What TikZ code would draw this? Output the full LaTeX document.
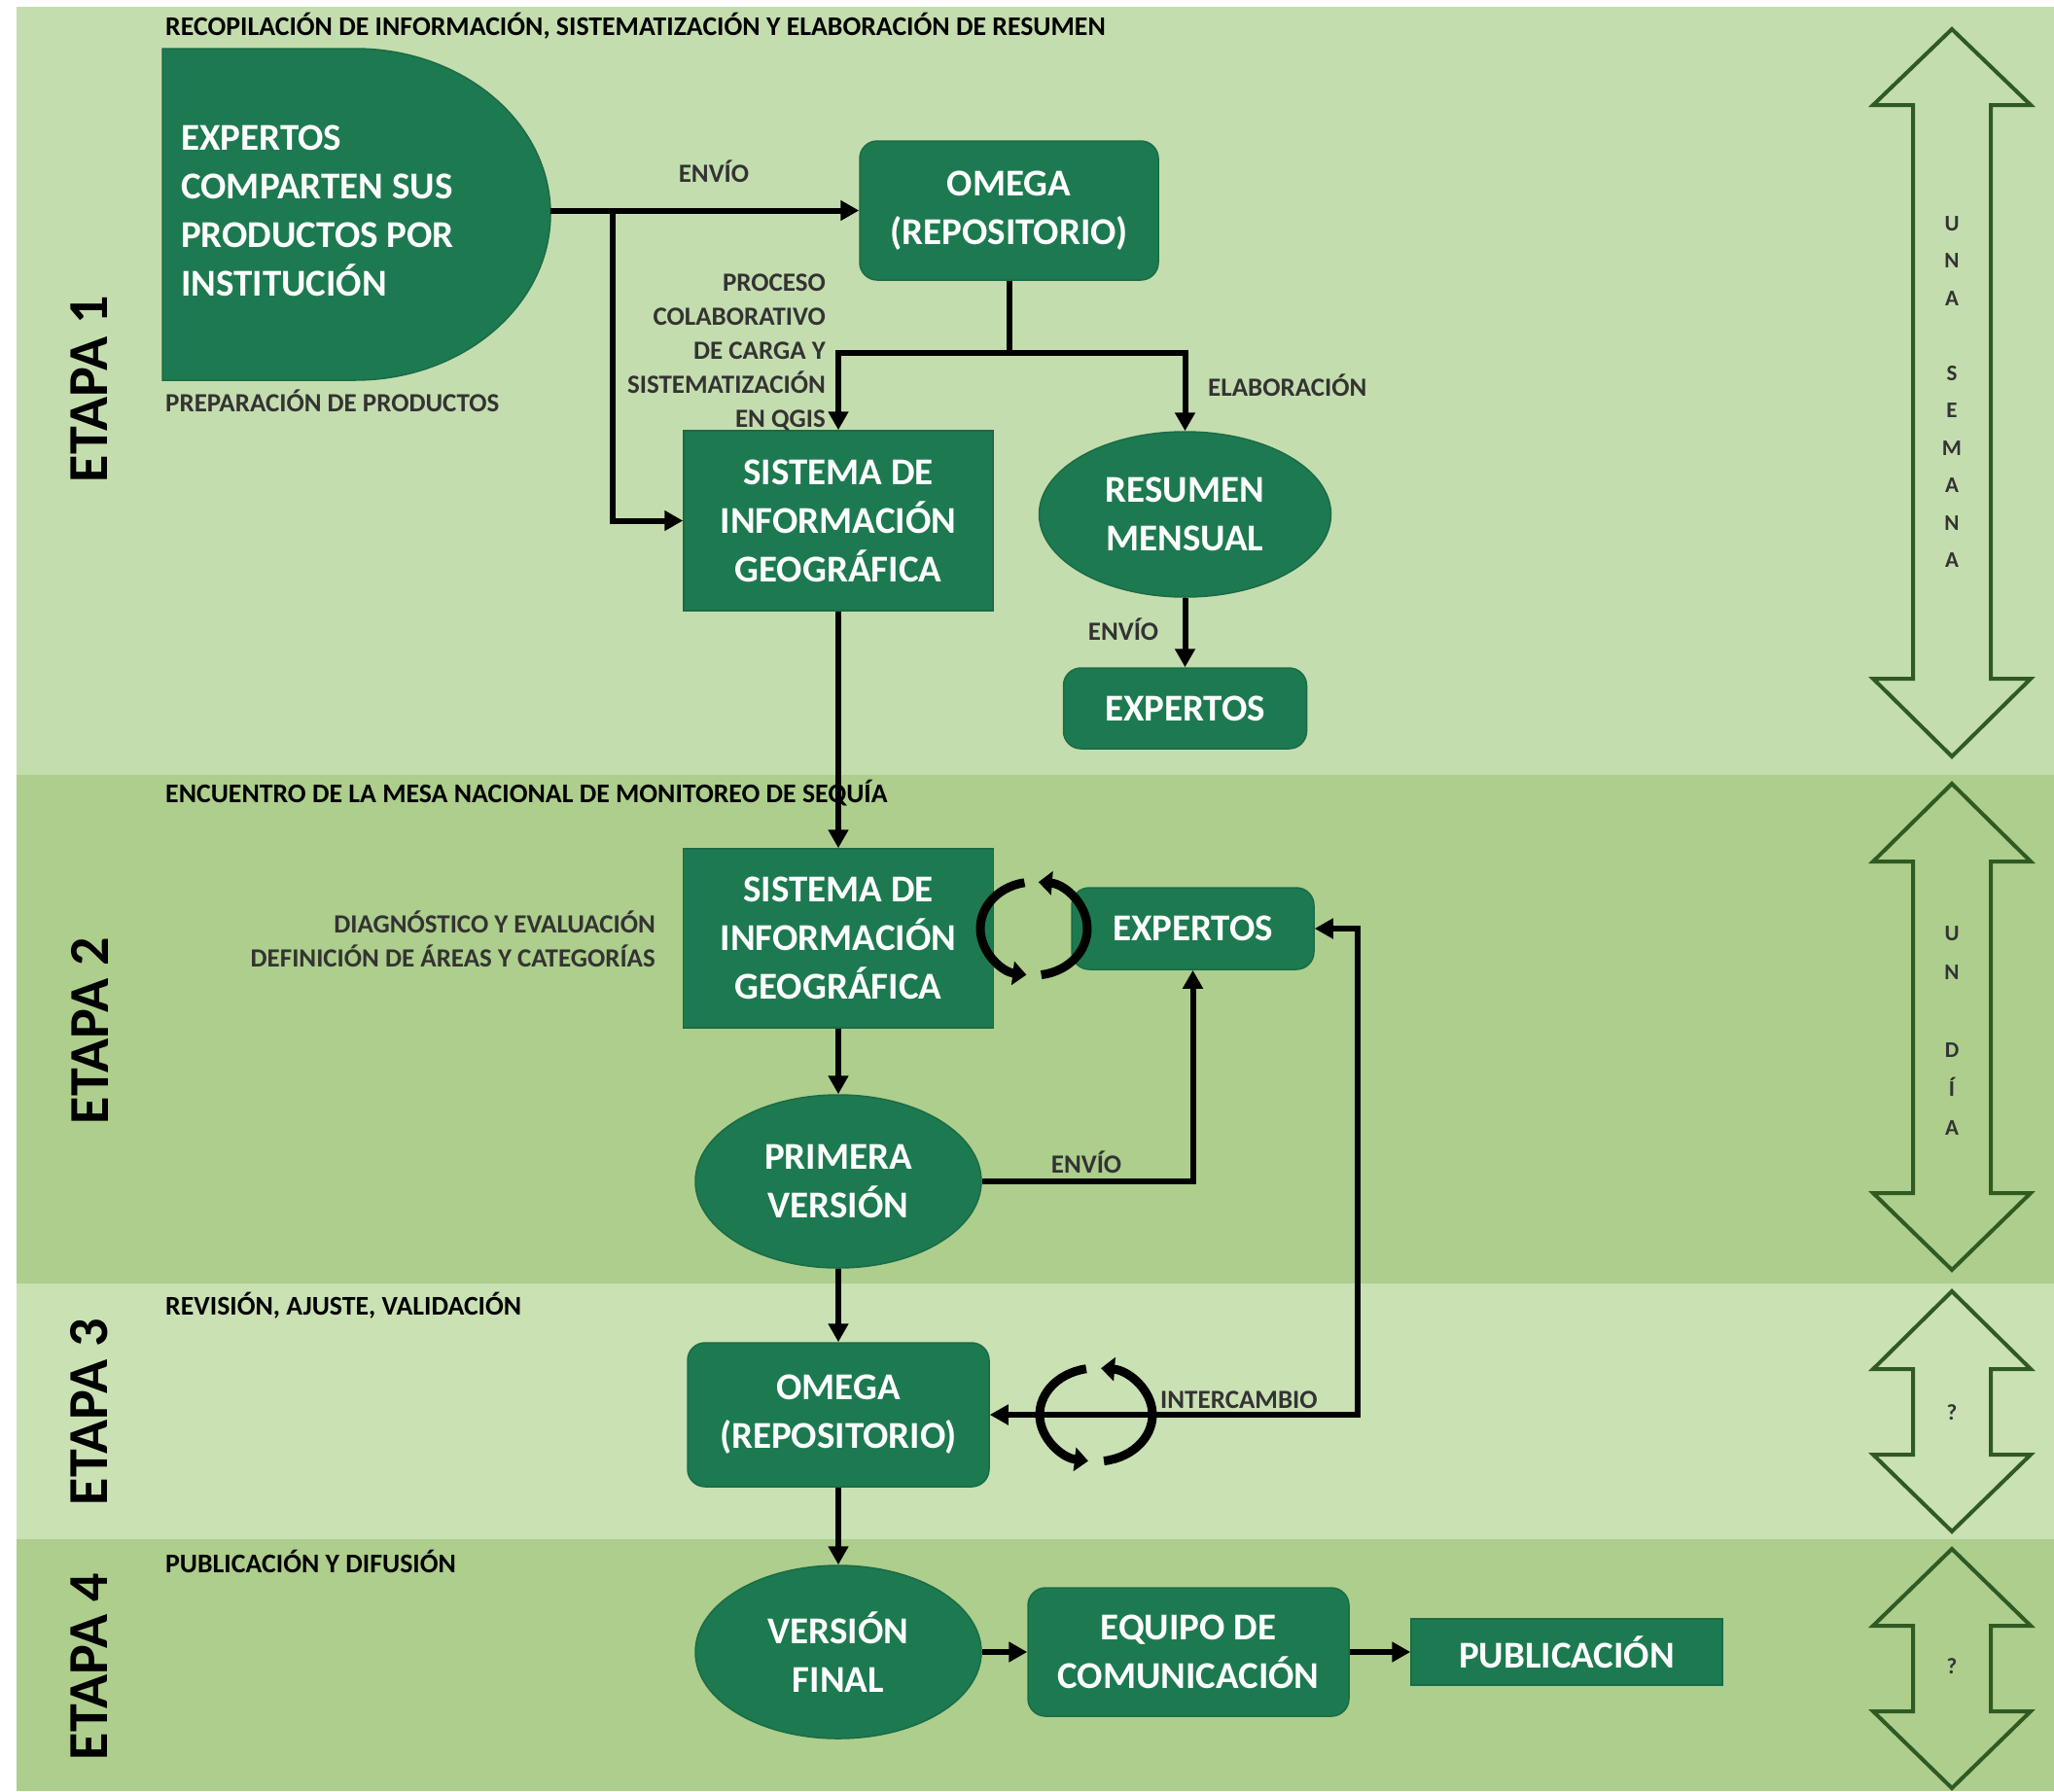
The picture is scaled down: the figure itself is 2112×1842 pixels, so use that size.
\documentclass[tikz,border=0pt]{standalone}
\usepackage{fontspec}
\setmainfont{Carlito}
\usetikzlibrary{arrows.meta,shapes.geometric}
\definecolor{bandA}{HTML}{C4DDAE}
\definecolor{bandC}{HTML}{CAE1B4}
\definecolor{bandB}{HTML}{ADCE8C}
\definecolor{boxg}{HTML}{1D7A50}
\definecolor{boxd}{HTML}{1A6B47}
\definecolor{arrg}{HTML}{2F5A22}
\definecolor{lblc}{HTML}{333333}
\newcommand\boxfont{\bfseries\fontsize{39}{50}\selectfont}
\newcommand\lblfont{\bfseries\fontsize{27}{35}\selectfont}
\newcommand\hdrfont{\bfseries\fontsize{27.8}{30}\selectfont}
\newcommand\etapafont{\bfseries\fontsize{58}{60}\selectfont}
\newcommand\dblarr[4]{%
  \draw[darrow] (2007,#1) -- (2088,#2) -- (2047,#2) -- (2047,#3) -- (2088,#3) -- (2007,#4)
    -- (1926,#3) -- (1967,#3) -- (1967,#2) -- (1926,#2) -- cycle;}
\tikzset{
  boxbase/.style={fill=boxg, draw=boxd, line width=1.5pt, text=white, font=\boxfont, align=center, inner sep=0pt},
  sqbox/.style={boxbase},
  rbox/.style={boxbase, rounded corners=18pt},
  ellbox/.style={boxbase, ellipse},
  lbl/.style={font=\lblfont, text=lblc, inner sep=0pt},
  hdr/.style={font=\hdrfont, text=black, anchor=west, inner sep=0pt},
  etapa/.style={font=\etapafont, text=black, rotate=90, inner sep=0pt},
  arr/.style={line width=6pt, draw=black, -{Triangle[length=19pt,width=20pt]}},
  arrtwo/.style={line width=6pt, draw=black, {Triangle[length=19pt,width=20pt]}-{Triangle[length=19pt,width=20pt]}},
  cycarr/.style={line width=9pt, draw=black, -{Triangle[length=14pt,width=24pt]}},
  darrow/.style={draw=arrg, line width=4pt, line join=miter},
  vlet/.style={font=\bfseries\fontsize{23}{38.5}\selectfont, text=lblc, align=center, inner sep=0pt},
}
\begin{document}
\begin{tikzpicture}[x=1pt,y=-1pt]
\useasboundingbox (0,0) rectangle (2112,1842);
\fill[white] (0,0) rectangle (2112,1842);
\fill[bandA] (17,7) rectangle (2112,797);
\fill[bandB] (17,797) rectangle (2112,1320);
\fill[bandC] (17,1320) rectangle (2112,1583);
\fill[bandB] (17,1583) rectangle (2112,1842);

% stage labels
\node[etapa] (e1) at (92,400) {ETAPA 1};
\node[etapa] (e2) at (92,1060) {ETAPA 2};
\node[etapa] (e3) at (92,1452) {ETAPA 3};
\node[etapa] (e4) at (92,1714) {ETAPA 4};

% headers
\node[hdr] (h1) at (170,27) {RECOPILACIÓN DE INFORMACIÓN, SISTEMATIZACIÓN Y ELABORACIÓN DE RESUMEN};
\node[hdr] (h2) at (170,816) {ENCUENTRO DE LA MESA NACIONAL DE MONITOREO DE SEQUÍA};
\node[hdr] (h3) at (170,1343) {REVISIÓN, AJUSTE, VALIDACIÓN};
\node[hdr] (h4) at (170,1606) {PUBLICACIÓN Y DIFUSIÓN};

% D-shape
\fill[boxg, draw=boxd, line width=1.5pt] (167,50) -- (365,50) .. controls (476,50) and (566,126) .. (566,220)
  .. controls (566,314) and (476,391) .. (365,391) -- (167,391) -- cycle;
\node[minimum width=399pt, minimum height=341pt, inner sep=0pt] (dsh) at (366.5,220) {};
\node[font=\boxfont, text=white, align=left, anchor=west, inner sep=0pt] (dtxt) at (186,217)
  {EXPERTOS\\COMPARTEN SUS\\PRODUCTOS POR\\INSTITUCIÓN};
\node[lbl, anchor=west] (lprep) at (170,412) {PREPARACIÓN DE PRODUCTOS};

% boxes
\node[rbox, minimum width=307pt, minimum height=143pt] (om1) at (1037.5,216.5) {OMEGA\\(REPOSITORIO)};
\node[sqbox, minimum width=318pt, minimum height=185pt] (sig1) at (862,535.5) {SISTEMA DE\\INFORMACIÓN\\GEOGRÁFICA};
\node[ellbox, minimum width=300pt, minimum height=170pt] (res) at (1218.5,529) {RESUMEN\\MENSUAL};
\node[rbox, minimum width=250pt, minimum height=83pt] (exp1) at (1218.5,728.5) {EXPERTOS};
\node[sqbox, minimum width=319pt, minimum height=184pt] (sig2) at (862,965) {SISTEMA DE\\INFORMACIÓN\\GEOGRÁFICA};
\node[rbox, minimum width=249pt, minimum height=84pt] (exp2) at (1226.5,955) {EXPERTOS};
\node[ellbox, minimum width=294pt, minimum height=178pt] (prim) at (862,1215) {PRIMERA\\VERSIÓN};
\node[rbox, minimum width=310pt, minimum height=148pt] (om2) at (862,1455) {OMEGA\\(REPOSITORIO)};
\node[ellbox, minimum width=294pt, minimum height=178pt] (vfin) at (862,1699) {VERSIÓN\\FINAL};
\node[rbox, minimum width=330pt, minimum height=132pt] (equ) at (1222,1699) {EQUIPO DE\\COMUNICACIÓN};
\node[sqbox, minimum width=320pt, minimum height=68pt] (pub) at (1611,1699) {PUBLICACIÓN};

% labels
\node[lbl] (lenv1) at (734,176) {ENVÍO};
\node[lbl, anchor=east, align=right] (lproc) at (849,362) {PROCESO\\COLABORATIVO\\DE CARGA Y\\SISTEMATIZACIÓN\\EN QGIS};
\node[lbl, anchor=west] (lelab) at (1242,396) {ELABORACIÓN};
\node[lbl] (lenv2) at (1155,647) {ENVÍO};
\node[lbl, anchor=east, align=right] (ldiag) at (674,966) {DIAGNÓSTICO Y EVALUACIÓN\\DEFINICIÓN DE ÁREAS Y CATEGORÍAS};
\node[lbl] (lenv3) at (1117,1195) {ENVÍO};
\node[lbl, anchor=west] (linter) at (1193,1440) {INTERCAMBIO};

% connectors
\coordinate (br) at (630,216.5);
\draw[arr] (dsh.east |- om1.west) -- (om1.west);
\draw[arr] (br) |- (sig1.west);
\draw[arr] (om1.south) -- ++(0,74) -| (sig1.north);
\draw[arr] (om1.south) -- ++(0,74) -| (res.north);
\draw[arr] (res.south) -- (exp1.north);
\draw[arr] (sig1.south) -- (sig2.north);
\draw[arr] (sig2.south) -- (prim.north);
\draw[arr] (prim.east) -| (exp2.south);
\draw[arr] (prim.south) -- (om2.north);
\coordinate (fb) at (1396,955);
\draw[arrtwo] (exp2.east) -- (fb) |- (om2.east);
\draw[arr] (om2.south) -- (vfin.north);
\draw[arr] (vfin.east) -- (equ.west);
\draw[arr] (equ.east) -- (pub.west);

% cycle symbols
\begin{scope}[shift={(1063,955)}, x=1pt, y=1pt]
  \draw[cycarr] (100:55 and 48) arc[start angle=100, end angle=262, x radius=55, y radius=48];
  \draw[cycarr] (278:55 and 48) arc[start angle=278, end angle=445, x radius=55, y radius=48];
\end{scope}
\begin{scope}[shift={(1127,1455)}, x=1pt, y=1pt]
  \draw[cycarr] (100:58 and 48) arc[start angle=100, end angle=262, x radius=58, y radius=48];
  \draw[cycarr] (278:58 and 48) arc[start angle=278, end angle=445, x radius=58, y radius=48];
\end{scope}

% time arrows
\dblarr{30}{108}{698}{778}
\dblarr{806}{886}{1227}{1306}
\dblarr{1328}{1408}{1496}{1575}
\dblarr{1593}{1672}{1760}{1839}
\node[vlet] (v1) at (2007,403) {U\\N\\A\\\mbox{}\\S\\E\\M\\A\\N\\A};
\node[vlet, font=\bfseries\fontsize{23}{40}\selectfont] (v2) at (2007,1060) {U\\N\\\mbox{}\\D\\Í\\A};
\node[vlet] (v3) at (2007,1453) {?};
\node[vlet] (v4) at (2007,1714) {?};
\end{tikzpicture}
\end{document}
